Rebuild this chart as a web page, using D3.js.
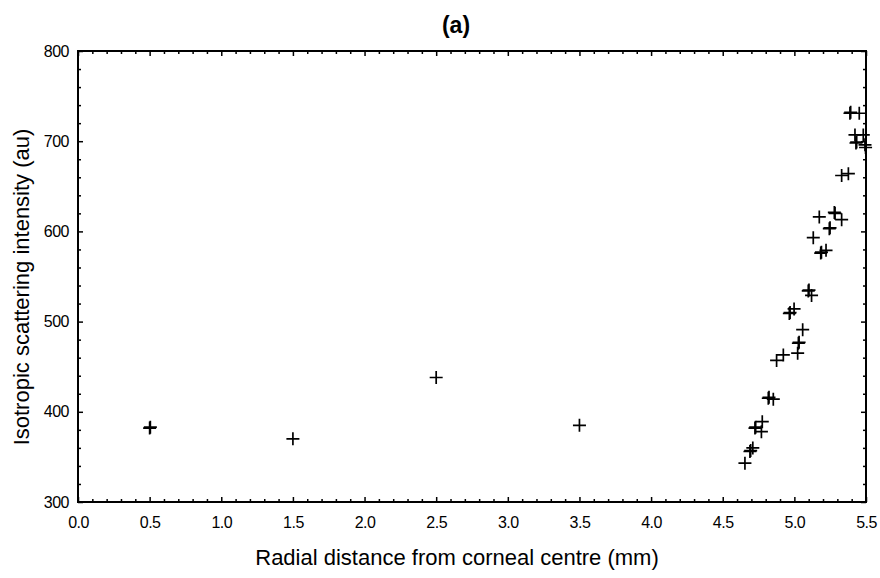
<!DOCTYPE html>
<html>
<head>
<meta charset="utf-8">
<script src="https://cdn.jsdelivr.net/npm/d3@7"></script>
<style>
    body { margin: 0; background: #fff; }
    svg text { font-family: "Liberation Sans", Arial, sans-serif; fill: #000; }
</style>
</head>
<body>
<div id="chart"></div>
<script>
// Data (radial distance in mm, intensity in au)
const radialDistance = [
    0.50, 0.505, 1.50, 2.50, 3.50,
    4.655, 4.69, 4.695, 4.71, 4.725, 4.73, 4.77, 4.776,
    4.818, 4.823, 4.853, 4.876, 4.923, 4.965, 4.97, 4.998,
    5.023, 5.028, 5.033, 5.058, 5.097, 5.102, 5.12, 5.132,
    5.174, 5.184, 5.189, 5.221, 5.244, 5.249, 5.279, 5.284,
    5.33, 5.33, 5.377, 5.388, 5.393, 5.453, 5.423, 5.481,
    5.43, 5.435, 5.493, 5.497
];
const intensity = [
    382, 383, 370, 438, 385,
    343, 356, 357, 360, 382, 383, 378, 389,
    415, 416, 414, 457, 463, 509, 510, 514,
    465, 476, 477, 491, 534, 535, 529, 593,
    616, 576, 577, 579, 603, 604, 621, 620,
    613, 662, 664, 731, 732, 731, 707, 707,
    698, 699, 696, 693
];

const xMajorTicks = [0, 0.5, 1, 1.5, 2, 2.5, 3, 3.5, 4, 4.5, 5, 5.5];
const yMajorTicks = [300, 400, 500, 600, 700, 800];

const width = 880, height = 578;
const margin = { top: 51, right: 14, bottom: 76, left: 78 };
const innerW = width - margin.left - margin.right;
const innerH = height - margin.top - margin.bottom;

const svg = d3.select('#chart').append('svg')
    .attr('width', width)
    .attr('height', height);

const g = svg.append('g')
    .attr('transform', `translate(${margin.left},${margin.top})`);

const x = d3.scaleLinear().domain([0, 5.5]).range([0, innerW]);
const y = d3.scaleLinear().domain([300, 800]).range([innerH, 0]);

const xMinor = d3.range(0, 55.5, 1).map(d => d / 10).filter(d => !xMajorTicks.some(t => Math.abs(t - d) < 1e-6));
const yMinor = d3.range(300, 801, 20).filter(d => d % 100 !== 0);

function styleAxis(sel) {
    sel.select('.domain').remove();
    sel.attr('font-family', null).attr('font-size', null);
    sel.selectAll('line').attr('stroke', '#000').attr('stroke-width', 1.5);
    sel.selectAll('text')
        .attr('font-size', 16)
        .attr('letter-spacing', '-0.5px');
}

// bottom
g.append('g')
    .attr('transform', `translate(0,${innerH})`)
    .call(d3.axisBottom(x).tickValues(xMajorTicks).tickSize(-5).tickPadding(15).tickFormat(d3.format('.1f')))
    .call(styleAxis);
g.append('g').attr('transform', `translate(0,${innerH})`)
    .call(d3.axisBottom(x).tickValues(xMinor).tickSize(-3).tickFormat(''))
    .call(styleAxis);

// top
g.append('g')
    .call(d3.axisTop(x).tickValues(xMajorTicks).tickSize(-5).tickFormat(''))
    .call(styleAxis);
g.append('g')
    .call(d3.axisTop(x).tickValues(xMinor).tickSize(-3).tickFormat(''))
    .call(styleAxis);

// left
g.append('g')
    .call(d3.axisLeft(y).tickValues(yMajorTicks).tickSize(-5).tickPadding(9).tickFormat(d3.format('d')))
    .call(styleAxis);
g.append('g')
    .call(d3.axisLeft(y).tickValues(yMinor).tickSize(-3).tickFormat(''))
    .call(styleAxis);

// right
g.append('g').attr('transform', `translate(${innerW},0)`)
    .call(d3.axisRight(y).tickValues(yMajorTicks).tickSize(-5).tickFormat(''))
    .call(styleAxis);
g.append('g').attr('transform', `translate(${innerW},0)`)
    .call(d3.axisRight(y).tickValues(yMinor).tickSize(-3).tickFormat(''))
    .call(styleAxis);

// frame
g.append('rect')
    .attr('width', innerW)
    .attr('height', innerH)
    .attr('fill', 'none')
    .attr('stroke', '#000')
    .attr('stroke-width', 2);

// plus markers
const points = radialDistance.map((d, i) => ({ r: d, v: intensity[i] }));
const arm = 6.5;
g.append('g')
    .selectAll('path')
    .data(points)
    .join('path')
    .attr('d', d => {
        const px = x(d.r), py = y(d.v);
        return `M${px - arm},${py}H${px + arm}M${px},${py - arm}V${py + arm}`;
    })
    .attr('stroke', '#000')
    .attr('stroke-width', 1.7)
    .attr('fill', 'none');

// titles
svg.append('text')
    .attr('x', 456)
    .attr('y', 33)
    .attr('text-anchor', 'middle')
    .attr('font-size', 23)
    .attr('font-weight', 'bold')
    .text('(a)');

svg.append('text')
    .attr('x', 457)
    .attr('y', 565)
    .attr('text-anchor', 'middle')
    .attr('font-size', 22)
    .text('Radial distance from corneal centre (mm)');

svg.append('text')
    .attr('transform', 'translate(29,287) rotate(-90)')
    .attr('text-anchor', 'middle')
    .attr('font-size', 22)
    .text('Isotropic scattering intensity (au)');
</script>
</body>
</html>
